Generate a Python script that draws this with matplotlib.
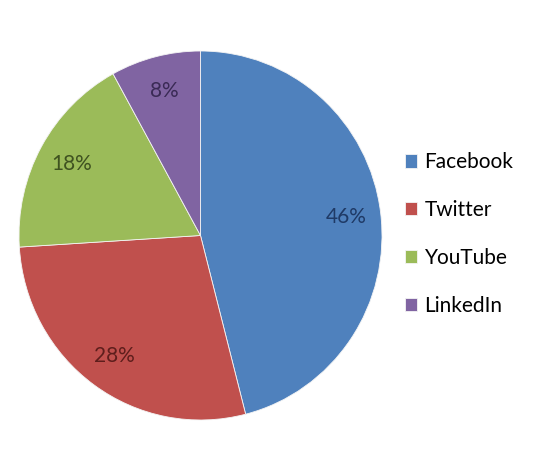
import matplotlib.pyplot as plt

labels = ['Facebook', 'Twitter', 'YouTube', 'LinkedIn']
shares = [46, 28, 18, 8]
colors = ['#4F81BD', '#C0504D', '#9BBB59', '#8064A2']
text_colors = ['#1F3A66', '#5E1E1C', '#3F5220', '#3A2A55']

plt.rcParams['font.family'] = ['Lato', 'DejaVu Sans']

fig = plt.figure(figsize=(5.36, 4.75), dpi=100)
# pie spans roughly x 19..382 px, y 51..420 px
ax = fig.add_axes([19 / 536, 1 - 420 / 475, 363 / 536, 369 / 475])

wedges, texts, autotexts = ax.pie(
    shares, colors=colors, startangle=90, counterclock=False,
    autopct='%d%%', pctdistance=0.81,
    wedgeprops=dict(edgecolor='#f4f4f4', linewidth=0.6),
    textprops=dict(fontsize=15))
for t, c in zip(autotexts, text_colors):
    t.set_color(c)

ax.set_aspect('auto')
ax.set_xlim(-1, 1)
ax.set_ylim(-1, 1)

fig.legend(wedges, labels, loc='center left', bbox_to_anchor=(386 / 536, 1 - 234 / 475),
           frameon=False, fontsize=15, handlelength=0.6, handleheight=0.6,
           handletextpad=0.35, labelspacing=1.33)

fig.savefig('out.png', dpi=100)
